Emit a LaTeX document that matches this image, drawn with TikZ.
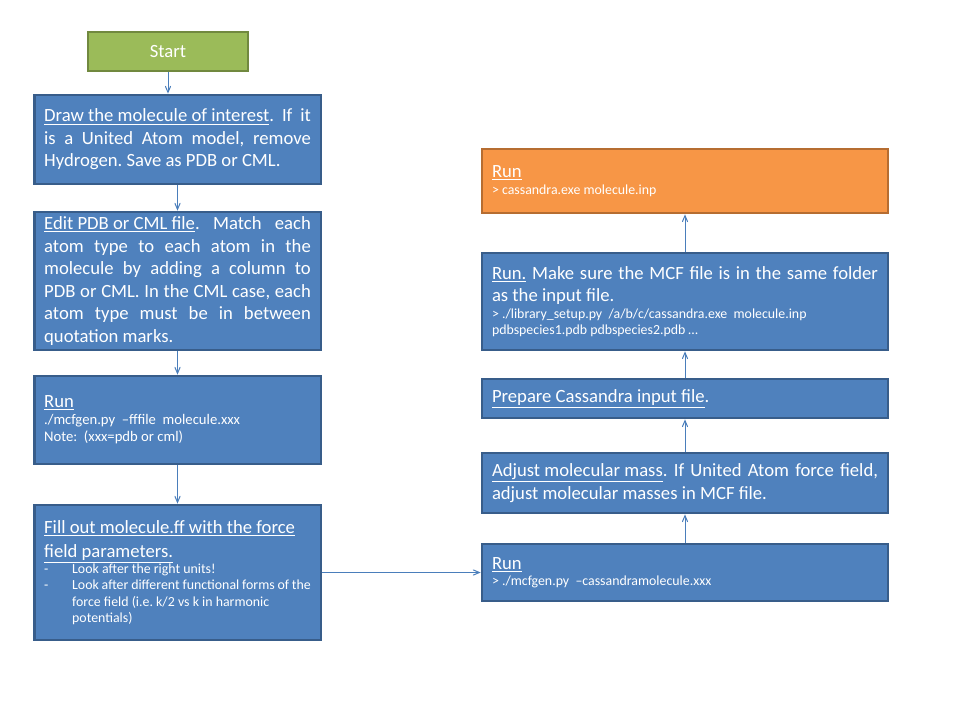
\documentclass[tikz,border=0pt]{standalone}
\usepackage{fontspec}
\setmainfont{Carlito}
\usetikzlibrary{arrows}
\usetikzlibrary{calc}

\definecolor{boxblue}{HTML}{4F81BD}
\definecolor{boxblueline}{HTML}{385D8A}
\definecolor{startgreen}{HTML}{9BBB59}
\definecolor{startgreenline}{HTML}{71893F}
\definecolor{runorange}{HTML}{F79646}
\definecolor{runorangeline}{HTML}{B66D31}
\definecolor{linkblue}{HTML}{4A7EBB}

\newcommand{\bigtext}{\fontsize{14}{16.9}\selectfont}
\newcommand{\smalltext}{\fontsize{10.4}{12.2}\selectfont}
\newcommand{\uln}[1]{\underline{#1}}
\newcommand{\dashitem}{\hangindent=21pt\hangafter=1\noindent\makebox[21pt][l]{-}}
\newcommand{\leftpar}[1]{\begin{minipage}{200pt}\bigtext\frenchspacing#1\end{minipage}}
\newcommand{\rightpar}[1]{\begin{minipage}{289.5pt}\bigtext\frenchspacing#1\end{minipage}}

\begin{document}
\begin{tikzpicture}[x=0.75pt,y=-0.75pt,
    stepbox/.style={rectangle, draw=boxblueline, fill=boxblue, line width=2pt, text=white, inner sep=0pt},
    leftbox/.style={stepbox, minimum width=215pt},
    rightbox/.style={stepbox, minimum width=304.5pt},
    link/.style={linkblue, line width=0.75pt, -angle 45}]
        \useasboundingbox (0,0) rectangle (960,720);

        % Left column
        \node[rectangle, draw=startgreenline, fill=startgreen, line width=2pt, text=white, font=\bigtext,
              minimum width=120pt, minimum height=29.25pt] (start) at (168,51.5) {Start};
        \node[leftbox, minimum height=66.75pt] (draw) at (177.5,139.5)
            {\leftpar{\uln{Draw the molecule of interest}. If it\linebreak
             is a United Atom model, remove\linebreak
             Hydrogen. Save as PDB or CML.}};
        \node[leftbox, minimum height=103.5pt] (edit) at (177.5,281)
            {\leftpar{\uln{Edit PDB or CML file}. Match each\linebreak
             atom type to each atom in the\linebreak
             molecule by adding a column to\linebreak
             PDB or CML. In the CML case, each\linebreak
             atom type must be in between\linebreak
             quotation marks.}};
        \node[leftbox, minimum height=66pt] (mcf) at (177.5,420)
            {\leftpar{\uln{Run}\par
             \fontsize{11}{12.8}\selectfont ./mcfgen.py \ –fffile \ molecule.xxx\par
             Note: \ (xxx=pdb or cml)}};
        \node[leftbox, minimum height=101.25pt] (ff) at (177.5,572.5)
            {\leftpar{\raggedright\fontsize{14}{18}\selectfont
             \uln{Fill out molecule.ff with the force}\newline
             \uln{field parameters.}\par
             \smalltext
             \dashitem Look after the right units!\par
             \dashitem Look after different functional forms of the\newline
             force field (i.e. k/2 vs k in harmonic\newline
             potentials)\par}};

        % Right column
        \node[rightbox, draw=runorangeline, fill=runorange, minimum height=48pt] (runcas) at (685,181)
            {\rightpar{\uln{Run}\par
             \smalltext > cassandra.exe molecule.inp}};
        \node[rightbox, minimum height=72.75pt] (runlib) at (685,301.5)
            {\rightpar{\uln{Run.} Make sure the MCF file is in the same folder\linebreak
             as the input file.\par
             \smalltext > ./library\_setup.py \ /a/b/c/cassandra.exe \ molecule.inp\newline
             pdbspecies1.pdb pdbspecies2.pdb …\par}};
        \node[rightbox, minimum height=29.25pt] (prep) at (685,398.5)
            {\rightpar{\uln{Prepare Cassandra input file}.}};
        \node[rightbox, minimum height=45pt] (mass) at (685,483)
            {\rightpar{\uln{Adjust molecular mass}. If United Atom force field,\linebreak
             adjust molecular masses in MCF file.}};
        \node[rightbox, minimum height=42.75pt] (runmcf) at (685,572.5)
            {\rightpar{\uln{Run}\par
             \smalltext > ./mcfgen.py \ –cassandramolecule.xxx\par}};

        % Draw the links
        \draw[link] (start) -- (start |- draw.north);
        \foreach \from/\to in {draw/edit, edit/mcf, mcf/ff, ff/runmcf, runmcf/mass, mass/prep, prep/runlib, runlib/runcas}
        \draw[link] (\from) -- (\to);
\end{tikzpicture}
\end{document}
